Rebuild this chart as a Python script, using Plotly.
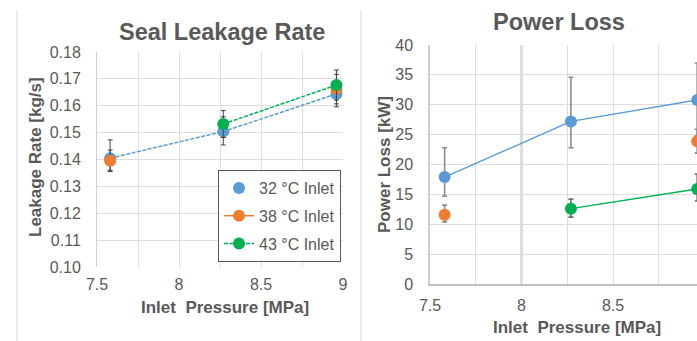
import plotly.graph_objects as go

# ---------------- data ----------------
pressure = [7.58, 8.27, 8.96]
series_names = ["32 °C Inlet", "38 °C Inlet", "43 °C Inlet"]

leak_32 = [0.1405, 0.1504, 0.1644]
leak_38 = [0.1395, None, 0.1662]
leak_43 = [None, 0.1532, 0.1677]
leak_32_plus = [0.0068, 0.0055, 0.0050]
leak_32_minus = [0.0045, 0.0050, 0.0048]
leak_38_err = [0.0040, 0.0, 0.0055]
leak_43_err = [0.0, 0.0050, 0.0056]

power_32 = [17.9, 27.2, 30.8]
power_38 = [11.6, None, 23.9]
power_43 = [None, 12.6, 15.9]
power_32_plus = [4.9, 7.4, 6.2]
power_32_minus = [3.2, 4.4, 6.0]
power_38_plus = [1.6, 0.0, 2.0]
power_38_minus = [1.2, 0.0, 2.0]
power_43_plus = [0.0, 1.6, 2.5]
power_43_minus = [0.0, 1.4, 2.0]

x_tickvals = [7.5, 8, 8.5, 9]
x_ticktext = ["7.5", "8", "8.5", "9"]
leak_tickvals = [0.10, 0.11, 0.12, 0.13, 0.14, 0.15, 0.16, 0.17, 0.18]
power_tickvals = [0, 5, 10, 15, 20, 25, 30, 35, 40]

# ---------------- style ----------------
W, H = 697, 341
BLUE, ORANGE, GREEN = "#5B9BD5", "#ED7D31", "#00B050"
TXT = "#595959"
GRID = "#dedede"
FONT = "Liberation Sans, Arial, sans-serif"

def px_x(p):
    return p / W

def px_y(p):
    return 1 - p / H

fig = go.Figure()

# ----- left chart: leakage -----
fig.add_trace(go.Scatter(
    x=pressure, y=leak_32, mode="lines", xaxis="x", yaxis="y",
    line=dict(color=BLUE, width=1.5, dash="4px,1.5px"), showlegend=False,
    hoverinfo="skip"))
fig.add_trace(go.Scatter(
    x=pressure, y=leak_32, mode="markers", name=series_names[0], xaxis="x", yaxis="y",
    marker=dict(color=BLUE, size=12), legendgroup="a",
    error_y=dict(type="data", array=leak_32_plus, arrayminus=leak_32_minus,
                 color="#404040", thickness=1, width=2.5)))
fig.add_trace(go.Scatter(
    x=pressure, y=leak_38, mode="lines+markers", name=series_names[1], xaxis="x", yaxis="y",
    marker=dict(color=ORANGE, size=12), line=dict(color=ORANGE, width=1.5),
    connectgaps=False, legendgroup="b",
    error_y=dict(type="data", array=leak_38_err, color="#404040", thickness=1, width=2.5)))
fig.add_trace(go.Scatter(
    x=pressure, y=leak_43, mode="lines+markers", name=series_names[2], xaxis="x", yaxis="y",
    marker=dict(color=GREEN, size=12), line=dict(color=GREEN, width=1.5, dash="4px,1.5px"),
    connectgaps=False, legendgroup="c",
    error_y=dict(type="data", array=leak_43_err, color="#404040", thickness=1, width=2.5)))

# ----- right chart: power loss -----
fig.add_trace(go.Scatter(
    x=pressure, y=power_32, mode="lines+markers", xaxis="x2", yaxis="y2", showlegend=False,
    marker=dict(color=BLUE, size=12), line=dict(color=BLUE, width=1.3),
    error_y=dict(type="data", array=power_32_plus, arrayminus=power_32_minus,
                 color="#8c8c8c", thickness=1.6, width=2.5)))
fig.add_trace(go.Scatter(
    x=pressure, y=power_38, mode="lines+markers", xaxis="x2", yaxis="y2", showlegend=False,
    marker=dict(color=ORANGE, size=12), line=dict(color=ORANGE, width=1.3), connectgaps=False,
    error_y=dict(type="data", array=power_38_plus, arrayminus=power_38_minus,
                 color="#8c8c8c", thickness=1.6, width=2.5)))
fig.add_trace(go.Scatter(
    x=pressure, y=power_43, mode="lines+markers", xaxis="x2", yaxis="y2", showlegend=False,
    marker=dict(color=GREEN, size=12), line=dict(color=GREEN, width=1.3), connectgaps=False,
    error_y=dict(type="data", array=power_43_plus, arrayminus=power_43_minus,
                 color="#6e6e6e", thickness=1.6, width=2.5)))

tickfont = dict(family=FONT, size=16, color=TXT)

xcommon = dict(tickvals=x_tickvals, ticktext=x_ticktext, showgrid=True, gridcolor=GRID,
               gridwidth=1, ticks="", tickfont=tickfont, zeroline=False,
               minor=dict(dtick=0.25, tick0=7.5, showgrid=True, gridcolor=GRID, gridwidth=1),
               automargin=False, ticklabelstandoff=6, fixedrange=True)

fig.update_layout(
    width=W, height=H,
    margin=dict(l=0, r=0, t=0, b=0),
    paper_bgcolor="white", plot_bgcolor="white",
    font=dict(family=FONT, color=TXT),
    xaxis=dict(domain=[px_x(97), px_x(343)], range=[7.5, 9], anchor="y",
               showline=False, **xcommon),
    yaxis=dict(domain=[px_y(267), px_y(52)], range=[0.10, 0.18], anchor="x",
               tickvals=leak_tickvals, tickformat=".2f", showgrid=True, gridcolor=GRID,
               ticks="", tickfont=tickfont, zeroline=False, showline=True,
               linecolor="#cfcfcf", linewidth=1, automargin=False,
               ticklabelstandoff=12, fixedrange=True),
    xaxis2=dict(domain=[px_x(430), 1.0], range=[7.5, 7.5 + 267 / 183], anchor="y2",
                showline=True, linecolor="#bfbfbf", linewidth=1.5, **xcommon),
    yaxis2=dict(domain=[px_y(284), px_y(45)], range=[0, 40], anchor="x2",
                tickvals=power_tickvals, showgrid=True, gridcolor=GRID, ticks="",
                tickfont=tickfont, zeroline=False, showline=True, linecolor="#cfcfcf",
                linewidth=1.5, automargin=False, ticklabelstandoff=12, fixedrange=True),
    legend=dict(x=px_x(218), y=px_y(170), xanchor="left", yanchor="top",
                bgcolor="white", bordercolor="#595959", borderwidth=1,
                font=dict(family=FONT, size=16, color=TXT),
                itemwidth=30, traceorder="grouped", tracegroupgap=4),
    showlegend=True,
)

# titles and axis titles
annos = [
    dict(text="<b>Seal Leakage Rate</b>", x=px_x(222), y=px_y(32), size=23.5),
    dict(text="<b>Power Loss</b>", x=px_x(559), y=px_y(22), size=23.5),
    dict(text="<b>Inlet\u00a0\u00a0Pressure [MPa]</b>", x=px_x(225), y=px_y(307), size=17),
    dict(text="<b>Inlet\u00a0\u00a0Pressure [MPa]</b>", x=px_x(577), y=px_y(327), size=17),
]
for a in annos:
    fig.add_annotation(text=a["text"], x=a["x"], y=a["y"], xref="paper", yref="paper",
                       xanchor="center", yanchor="middle", showarrow=False,
                       font=dict(family=FONT, size=a["size"], color=TXT))
fig.add_annotation(text="<b>Leakage Rate [kg/s]</b>", x=px_x(35), y=px_y(157),
                   xref="paper", yref="paper", xanchor="center", yanchor="middle",
                   showarrow=False, textangle=-90,
                   font=dict(family=FONT, size=17, color=TXT))
fig.add_annotation(text="<b>Power Loss [kW]</b>", x=px_x(384), y=px_y(165),
                   xref="paper", yref="paper", xanchor="center", yanchor="middle",
                   showarrow=False, textangle=-90,
                   font=dict(family=FONT, size=17, color=TXT))

# chart-area borders and emphasised gridline
fig.add_shape(type="line", xref="paper", yref="paper", x0=px_x(17), x1=px_x(17),
              y0=px_y(10), y1=0, line=dict(color="#d9d9d9", width=1))
fig.add_shape(type="line", xref="paper", yref="paper", x0=px_x(361), x1=px_x(361),
              y0=px_y(10), y1=0, line=dict(color="#d9d9d9", width=1))
fig.add_shape(type="line", xref="x2", yref="y2 domain", x0=8, x1=8, y0=0, y1=1,
              line=dict(color="#d4d4d4", width=2.5), layer="below")

fig.write_html(
    "out.html",
    config={"displayModeBar": False},
    post_script="document.body.style.margin='0';document.body.style.overflow='hidden';",
)
